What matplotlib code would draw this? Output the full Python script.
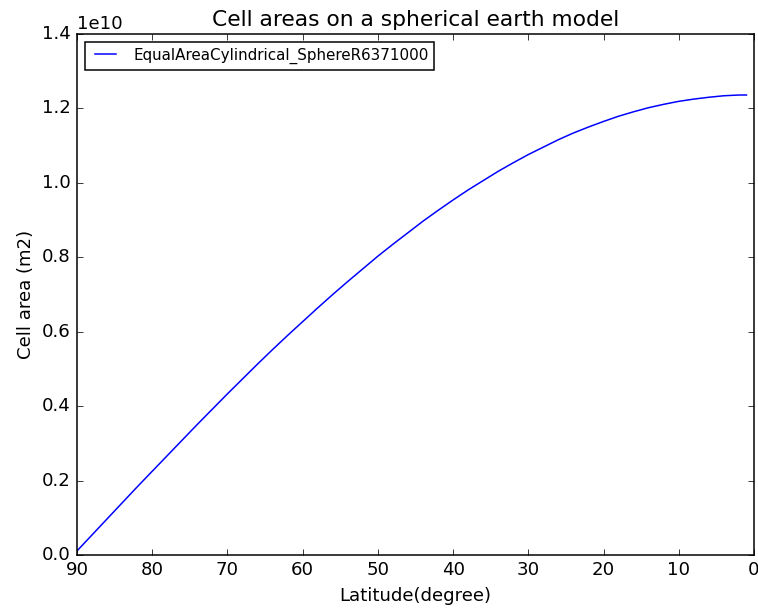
import matplotlib
matplotlib.use('Agg')
import matplotlib.pyplot as plt

# upper edge latitude of each 1-degree band (degrees) and cell area (units of 1e10 m2)
latitudes = [90, 88, 86, 84, 82, 80, 78, 76, 74, 72, 70, 68, 66, 64, 62, 60,
             58, 56, 54, 52, 50, 48, 46, 44, 42, 40, 38, 36, 34, 32, 30, 28,
             26, 24, 22, 20, 18, 16, 14, 12, 10, 8, 6, 4, 2, 1]
areas_e10 = [0.011, 0.054, 0.097, 0.140, 0.183, 0.225, 0.267, 0.309, 0.351,
             0.392, 0.433, 0.473, 0.513, 0.552, 0.590, 0.627, 0.664, 0.700,
             0.735, 0.769, 0.803, 0.835, 0.866, 0.897, 0.926, 0.954, 0.981,
             1.006, 1.031, 1.054, 1.076, 1.096, 1.116, 1.134, 1.150, 1.165,
             1.179, 1.191, 1.202, 1.211, 1.219, 1.225, 1.230, 1.234, 1.236,
             1.236]
series_name = 'EqualAreaCylindrical_SphereR6371000'

areas = [a * 1e10 for a in areas_e10]

DPI = 109
plt.style.use('classic')
fig = plt.figure(figsize=(758 / DPI, 609 / DPI), dpi=DPI, facecolor='white')
ax = fig.add_subplot(111)
fig.subplots_adjust(left=0.1016, right=0.9947, top=0.9442, bottom=0.0887)

ax.plot(latitudes, areas, color='b', lw=1.0, label=series_name)
ax.set_xlim(90, 0)
ax.set_ylim(0, 1.4e10)
ax.set_title('Cell areas on a spherical earth model')
ax.set_xlabel('Latitude(degree)')
ax.set_ylabel('Cell area (m2)')
ax.legend(loc='upper left', fontsize=10)

fig.savefig('out.png', dpi=DPI, facecolor='white')
